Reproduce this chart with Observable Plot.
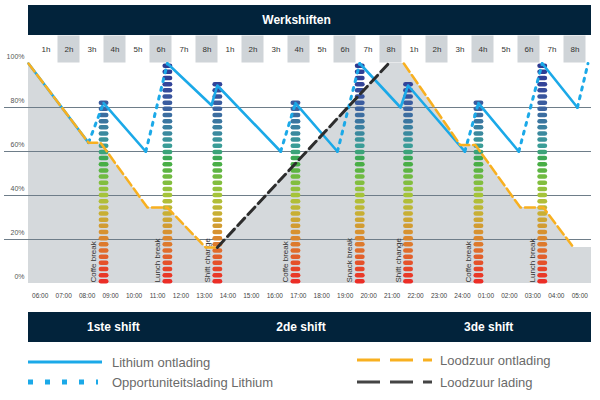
<!DOCTYPE html>
<html><head><meta charset="utf-8">
<script src="https://cdn.jsdelivr.net/npm/d3@7"></script>
<script src="https://cdn.jsdelivr.net/npm/@observablehq/plot@0.6"></script>
<style>
body{margin:0;background:#fff;font-family:"Liberation Sans",Arial,sans-serif}
#wrap{position:relative;width:600px;height:400px;overflow:hidden}
.abs{position:absolute;left:0}
#title{position:absolute;left:28px;top:5px;width:563px;height:30px;background:#02233b;color:#fff;font-weight:bold;font-size:12px;line-height:30px;text-align:center;box-sizing:border-box;padding-right:26px}
#legend text{font-family:"Liberation Sans",Arial,sans-serif;font-size:13px;fill:#6a6a6a}
</style></head><body>
<div id="wrap">
  <div id="title">Werkshiften</div>
  <div id="hours" class="abs" style="top:35px"></div>
  <div id="main" class="abs" style="top:63px"></div>
  <div id="shifts" class="abs" style="top:312px"></div>
  <div id="legend" class="abs" style="top:348px">
    <svg width="600" height="52">
      <line x1="28" x2="102" y1="14" y2="14" stroke="#1ba9e8" stroke-width="3"/>
      <text x="112" y="18.5">Lithium ontlading</text>
      <line x1="28" x2="98" y1="34" y2="34" stroke="#1ba9e8" stroke-width="5" stroke-dasharray="5,12"/>
      <text x="112" y="38.5">Opportuniteitslading Lithium</text>
      <line x1="357" x2="432" y1="12" y2="12" stroke="#f8b020" stroke-width="3" stroke-dasharray="23,10"/>
      <text x="440" y="16.5">Loodzuur ontlading</text>
      <line x1="357" x2="432" y1="34" y2="34" stroke="#444" stroke-width="3" stroke-dasharray="23,10"/>
      <text x="440" y="38.5">Loodzuur lading</text>
    </svg>
  </div>
</div>
<script>
// ---- data (time axis in hours since the start of the 1st shift) ----
const shiftHours = ["1h","2h","3h","4h","5h","6h","7h","8h"];
const shiftNames = ["1ste shift","2de shift","3de shift"];
const shiftStart = [0, 8, 16];
const shiftEnd = [8, 16, 24];
const timeLabels = ["06:00","07:00","08:00","09:00","10:00","11:00","12:00","13:00",
  "14:00","15:00","16:00","17:00","18:00","19:00","20:00","21:00",
  "22:00","23:00","24:00","01:00","02:00","03:00","04:00","05:00"];
const yTicks = [0, 20, 40, 60, 80, 100];
const breakNames = ["Coffe break","Lunch break","Shift change","Coffe break","Snack break","Shift change","Coffe break","Lunch break"];
const breakTimes = [3.2, 5.92, 8.05, 11.38, 14.12, 16.18, 19.18, 21.9];
const breakLevels = [82, 100, 90, 82, 100, 90, 82, 100];
const lithiumDischarge = [
  [[0,100],[2.56,64]],
  [[3.2,82],[5.0,60]],
  [[5.92,100],[7.8,81],[8.05,90],[10.75,60]],
  [[11.38,82],[13.17,60]],
  [[14.12,100],[15.86,80],[16.18,90],[18.6,60]],
  [[19.18,82],[20.9,60]],
  [[21.9,100],[23.4,80]]
];
const lithiumOpportunity = [
  [[2.56,64],[3.2,82]],
  [[5.0,60],[5.92,100]],
  [[10.75,60],[11.38,82]],
  [[13.17,60],[14.12,100]],
  [[18.6,60],[19.18,82]],
  [[20.9,60],[21.9,100]],
  [[23.4,80],[23.85,100]]
];
const leadDischarge = [
  [[0,100],[2.56,64],[3.07,64],[5.07,34.5],[5.92,34.5],[7.55,16.4],[8.05,16.4]],
  [[16,100],[18.4,63],[19.05,63],[20.97,34.5],[21.95,34.5],[23.23,16.4]]
];
const leadCharge = [[8.05,16.4],[15.35,100]];
const leadIdle = [[24,16.4]];

// ---- helpers ----
const hourLabels = shiftNames.flatMap(() => shiftHours);
const toRows = segs => segs.flatMap((s, k) => s.map(([t, v]) => ({t, v, k})));
const areaRows = [...leadDischarge[0], ...leadCharge.slice(1), ...leadDischarge[1], ...leadIdle].map(([t, v]) => ({t, v}));
const gauge = d3.scaleLinear()
  .domain([0, 8, 16, 24, 32, 40, 48, 56, 62, 70, 80, 90, 100])
  .range(["#ec2a26","#e64a2a","#df722c","#d69530","#c8b034","#a6c43a","#74bc40","#3caa48","#3a9f96","#3a83a0","#3d62a0","#33459a","#2c3a90"]);
const gaugeRows = breakTimes.flatMap((t, i) =>
  d3.range(1, breakLevels[i] + 1.01, 2.8).map(level => ({t, level})));
const pill = {
  draw(ctx) {
    const r = 2.25, w = 2.7;
    ctx.moveTo(-w, -r); ctx.lineTo(w, -r);
    ctx.arc(w, 0, r, -Math.PI / 2, Math.PI / 2);
    ctx.lineTo(-w, r);
    ctx.arc(-w, 0, r, Math.PI / 2, 3 * Math.PI / 2);
    ctx.closePath();
  }
};
const font = "Liberation Sans, Arial, sans-serif";

// ---- hour row ----
document.getElementById("hours").append(Plot.plot({
  width: 600, height: 28, marginLeft: 28, marginRight: 9, marginTop: 0, marginBottom: 0,
  style: {fontFamily: font, background: "transparent"},
  x: {axis: null, padding: 0, domain: d3.range(24)},
  color: {type: "identity"},
  marks: [
    Plot.cell(hourLabels, {x: (d, i) => i, fill: (d, i) => i % 2 ? "#cfd4d8" : "#ffffff", inset: 0.5}),
    Plot.text(hourLabels, {x: (d, i) => i, text: d => d, fontSize: 8, fill: "#333"})
  ]
}));

// ---- main chart ----
document.getElementById("main").append(Plot.plot({
  width: 600, height: 249, marginLeft: 4, marginRight: 9, marginTop: 0, marginBottom: 29,
  style: {fontFamily: font, background: "transparent", overflow: "visible"},
  x: {domain: [-1.023, 24], axis: null},
  y: {domain: [0, 100], axis: null},
  color: {type: "identity"},
  marks: [
    Plot.areaY(areaRows, {x: "t", y: "v", fill: "#d5d9dc"}),
    Plot.ruleY(yTicks.filter(d => d > 0 && d < 100), {stroke: "#6e7d89", strokeWidth: 1.2}),
    Plot.dot(gaugeRows, {x: "t", y: "level", symbol: pill, fill: d => gauge(d.level), stroke: null}),
    Plot.text(breakNames, {x: (d, i) => breakTimes[i], y: () => 0, text: d => d, rotate: -90,
      textAnchor: "start", dx: -10, dy: -1, fontSize: 8, fill: "#333"}),
    Plot.line(toRows(lithiumDischarge), {x: "t", y: "v", z: "k", stroke: "#1ba9e8", strokeWidth: 2.6}),
    Plot.line(toRows(lithiumOpportunity), {x: "t", y: "v", z: "k", stroke: "#1ba9e8", strokeWidth: 3, strokeDasharray: "3,6"}),
    Plot.line(toRows(leadDischarge), {x: "t", y: "v", z: "k", stroke: "#f8b020", strokeWidth: 2.5, strokeDasharray: "10,4"}),
    Plot.line(toRows([leadCharge]), {x: "t", y: "v", z: "k", stroke: "#2d2d2d", strokeWidth: 3, strokeDasharray: "10,5"}),
    Plot.text(yTicks, {y: d => d, text: d => d + "%", frameAnchor: "left", textAnchor: "end", dx: 20, dy: -7, fontSize: 7, fill: "#555"}),
    Plot.text(timeLabels, {x: (d, i) => i + 0.5, text: d => d, frameAnchor: "bottom", dy: 14, fontSize: 6.5, fill: "#444"})
  ]
}));

// ---- shift bar ----
document.getElementById("shifts").append(Plot.plot({
  width: 600, height: 30, marginLeft: 28, marginRight: 9, marginTop: 0, marginBottom: 0,
  style: {fontFamily: font, background: "transparent"},
  x: {domain: [0, 24], axis: null},
  marks: [
    Plot.rect(shiftNames, {x1: (d, i) => shiftStart[i], x2: (d, i) => shiftEnd[i], fill: "#02233b", shapeRendering: "crispEdges"}),
    Plot.text(shiftNames, {x: (d, i) => (shiftStart[i] + shiftEnd[i]) / 2, text: d => d, fill: "white", fontWeight: "bold", fontSize: 12, dx: -9})
  ]
}));
</script>
</body></html>
